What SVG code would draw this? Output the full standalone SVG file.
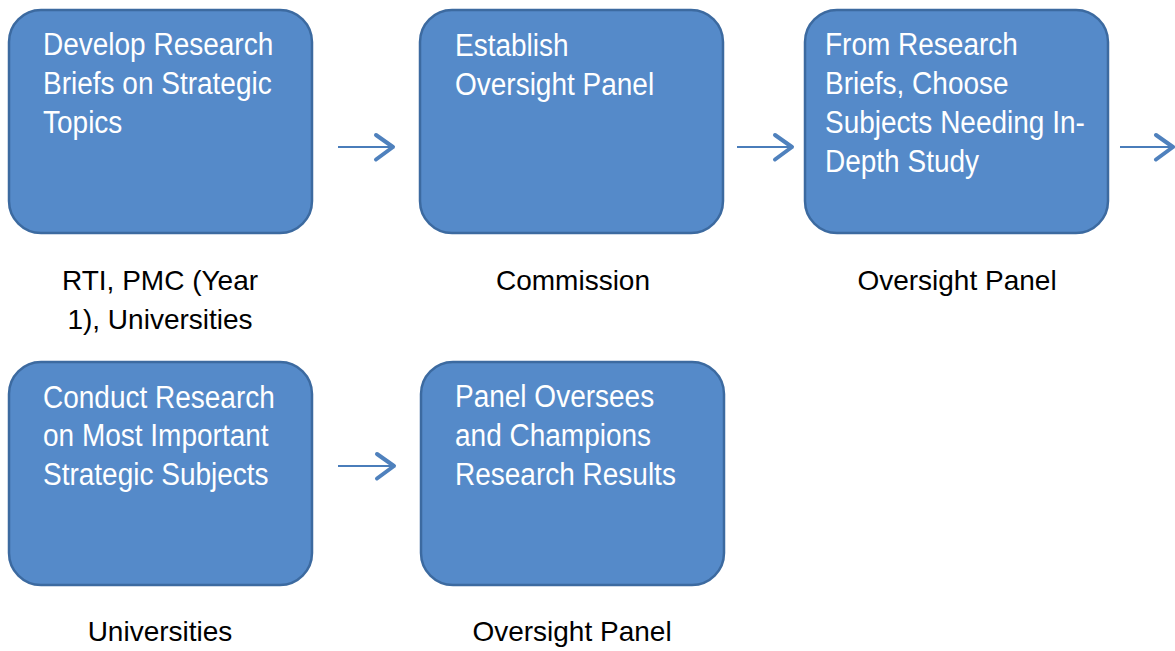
<svg xmlns="http://www.w3.org/2000/svg" width="1175" height="651" viewBox="0 0 1175 651">
  <style>
    .box { fill: #558ac9; stroke: #3c6aa0; stroke-width: 2.5; }
    .btxt { font-family: "Liberation Sans", Arial, sans-serif; font-size: 28px; fill: #ffffff; }
    .lbl { font-family: "Liberation Sans", Arial, sans-serif; font-size: 28px; fill: #000000; text-anchor: middle; }
    .conn { stroke: #4a7dba; stroke-width: 2; fill: none; marker-end: url(#chev); }
  </style>
  <defs>
    <marker id="chev" markerUnits="userSpaceOnUse" viewBox="-20 -16 24 32" markerWidth="24" markerHeight="32" refX="0" refY="0" orient="auto">
      <path d="M-17,-12 L0,0 L-17,12.5" fill="none" stroke="#4f81bd" stroke-width="4" stroke-linecap="round" stroke-linejoin="round"/>
    </marker>
  </defs>
  <rect width="1175" height="651" fill="#ffffff"/>

  <g id="connectors">
    <line class="conn" x1="338" y1="147" x2="393" y2="147"/>
    <line class="conn" x1="737" y1="147" x2="792" y2="147"/>
    <line class="conn" x1="1120" y1="147" x2="1173" y2="147"/>
    <line class="conn" x1="338" y1="466" x2="394" y2="466"/>
  </g>

  <g id="node1">
    <rect class="box" x="9" y="10" width="303" height="223" rx="32" ry="32"/>
    <text class="btxt" transform="translate(43,55) scale(1,1.1)"><tspan x="0" y="0">Develop Research</tspan><tspan x="0" dy="35.5">Briefs on Strategic</tspan><tspan x="0" dy="35.5">Topics</tspan></text>
  </g>
  <g id="node2">
    <rect class="box" x="420" y="10" width="303" height="223" rx="32" ry="32"/>
    <text class="btxt" transform="translate(455,56) scale(1,1.1)"><tspan x="0" y="0">Establish</tspan><tspan x="0" dy="35.5">Oversight Panel</tspan></text>
  </g>
  <g id="node3">
    <rect class="box" x="805" y="10" width="303" height="223" rx="32" ry="32"/>
    <text class="btxt" transform="translate(825,55) scale(1,1.1)"><tspan x="0" y="0">From Research</tspan><tspan x="0" dy="35.5">Briefs, Choose</tspan><tspan x="0" dy="35.5">Subjects Needing In-</tspan><tspan x="0" dy="35.5">Depth Study</tspan></text>
  </g>
  <g id="node4">
    <rect class="box" x="9" y="362" width="303" height="223" rx="32" ry="32"/>
    <text class="btxt" transform="translate(43,408) scale(1,1.1)"><tspan x="0" y="0">Conduct Research</tspan><tspan x="0" dy="35">on Most Important</tspan><tspan x="0" dy="35">Strategic Subjects</tspan></text>
  </g>
  <g id="node5">
    <rect class="box" x="421" y="362" width="303" height="223" rx="32" ry="32"/>
    <text class="btxt" transform="translate(455,407) scale(1,1.1)"><tspan x="0" y="0">Panel Oversees</tspan><tspan x="0" dy="35.5">and Champions</tspan><tspan x="0" dy="35.5">Research Results</tspan></text>
  </g>

  <g id="labels">
    <text class="lbl" x="160" y="290">RTI, PMC (Year</text>
    <text class="lbl" x="160" y="329"> 1), Universities</text>
    <text class="lbl" x="573" y="290">Commission</text>
    <text class="lbl" x="957" y="290">Oversight Panel</text>
    <text class="lbl" x="160" y="641">Universities</text>
    <text class="lbl" x="572" y="641">Oversight Panel</text>
  </g>
</svg>
